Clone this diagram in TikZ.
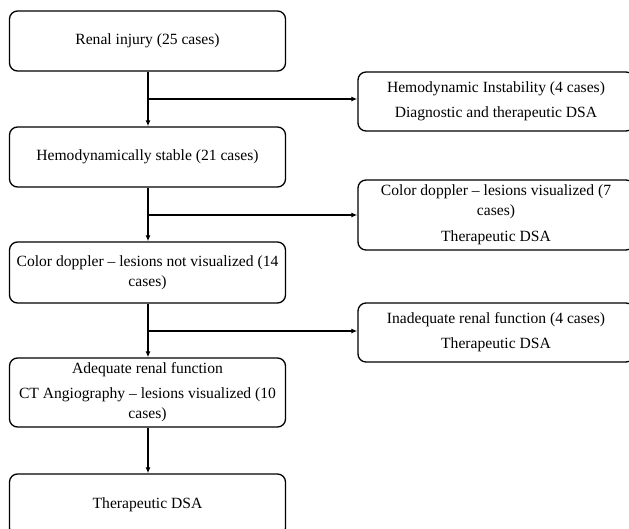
\documentclass[tikz,border=0pt]{standalone}
\usepackage{fontspec}
\setmainfont{Liberation Serif}
\usetikzlibrary{arrows.meta}
\begin{document}
\begin{tikzpicture}[x=1pt,y=-1pt,
  box/.style={draw=black, line width=1.3pt, rounded corners=8pt, fill=white,
    minimum width=276pt, align=center, inner sep=0pt,
    font=\fontsize{15.6}{20}\selectfont},
  arr/.style={line width=1.3pt, -{Latex[length=6pt,width=5pt]}},
  ln/.style={line width=1.3pt}]
\useasboundingbox (0,0) rectangle (629,529);
\clip (0,0) rectangle (629,529);
\node[box, minimum height=60pt] (b1) at (147.5,41) {Renal injury (25 cases)};
\node[box, minimum height=60pt] (b2) at (147.5,157) {Hemodynamically stable (21 cases)};
\node[box, minimum height=61pt] (b3) at (147.5,272.5) {Color doppler -- lesions not visualized (14\\cases)};
\node[box, minimum height=69pt] (b4) at (147.5,392.5) {Adequate renal function\\[5pt]CT Angiography -- lesions visualized (10\\cases)};
\node[box, minimum height=62pt] (b5) at (147.5,505) {Therapeutic DSA};
\node[box, minimum height=59pt] (r1) at (496,101.5) {Hemodynamic Instability (4 cases)\\[5pt]Diagnostic and therapeutic DSA};
\node[box, minimum height=70pt] (r2) at (496,215) {Color doppler -- lesions visualized (7\\cases)\\[6pt]Therapeutic DSA};
\node[box, minimum height=59pt] (r3) at (496,332.5) {Inadequate renal function (4 cases)\\[5pt]Therapeutic DSA};
\coordinate (j1) at (148,99);
\coordinate (j2) at (148,215);
\coordinate (j3) at (148,331);
\draw[arr] (b1.south -| j1) -- (b2.north -| j1);
\draw[arr] (b2.south -| j2) -- (b3.north -| j2);
\draw[arr] (b3.south -| j3) -- (b4.north -| j3);
\draw[arr] (b4.south -| j3) -- (b5.north -| j3);
\draw[arr] (j1) -- (j1 -| r1.west);
\draw[arr] (j2) -- (j2 -| r2.west);
\draw[arr] (j3) -- (j3 -| r3.west);
\end{tikzpicture}
\end{document}
